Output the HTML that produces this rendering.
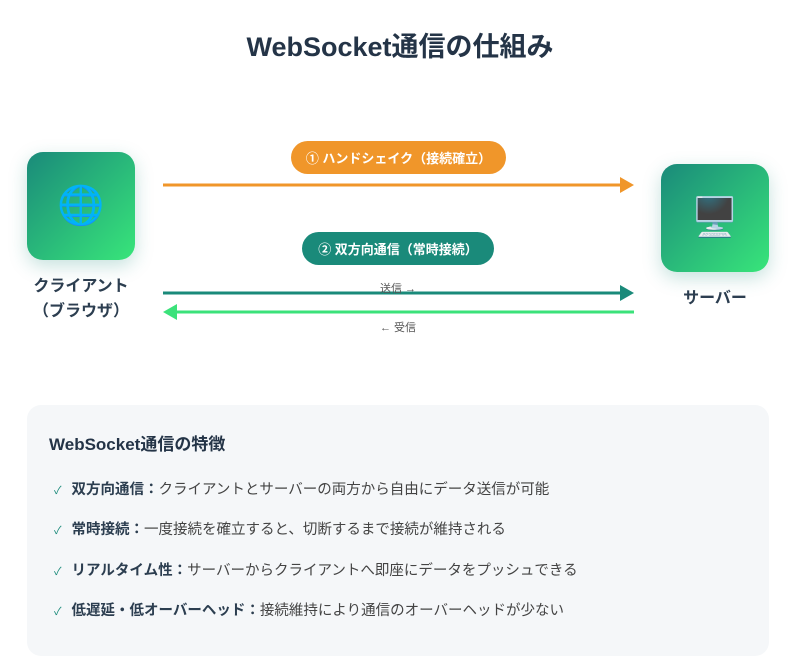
<!DOCTYPE html>
<html><head><meta charset="utf-8"><style>
*{margin:0;padding:0;box-sizing:border-box}
body{width:800px;height:671px;background:#fff;font-family:"Liberation Sans","Noto Sans CJK JP",sans-serif;position:relative;overflow:hidden;color:#2c3e50}
.a{position:absolute}
.title{left:0;width:800px;top:30px;text-align:center;font-size:27px;font-weight:bold;line-height:34px;color:#243447}
.box{width:108px;height:108px;border-radius:16px;background:linear-gradient(135deg,#1a8a7a,#38e57a);box-shadow:0 6px 18px rgba(26,138,122,.25);display:flex;align-items:center;justify-content:center;font-size:38px;font-family:"Noto Color Emoji","DejaVu Sans",sans-serif}
.lbl{font-size:16px;font-weight:bold;text-align:center;line-height:25px;color:#2c3e50}
.pill{height:33px;border-radius:17px;color:#fff;font-size:13px;font-weight:bold;display:flex;align-items:center;justify-content:center}
.sm{font-size:11px;color:#555}
.card{left:27px;top:405px;width:742px;height:251px;background:#f5f7f9;border-radius:14px}
.h{left:49px;top:430px;font-size:17px;font-weight:bold;color:#243447}
.it{left:54px;font-size:14.5px;color:#444;line-height:20px}
.it b{color:#2c3e50}
.it span.c{color:#1a8a7a;font-size:11px;margin-right:10px}
</style></head><body>
<div class="a title">WebSocket通信の仕組み</div>
<div class="a box" style="left:27px;top:152px">🌐</div>
<div class="a lbl" style="left:0;width:162px;top:274px">クライアント<br>（ブラウザ）</div>
<div class="a box" style="left:661px;top:164px">🖥️</div>
<div class="a lbl" style="left:661px;width:108px;top:286px">サーバー</div>
<div class="a pill" style="left:291px;top:141px;width:215px;background:#f0962a">① ハンドシェイク（接続確立）</div>
<div class="a pill" style="left:302px;top:232px;width:192px;background:#1a8a7a">② 双方向通信（常時接続）</div>
<svg class="a" style="left:0;top:0" width="800" height="671">
<line x1="163" y1="185" x2="622" y2="185" stroke="#f0962a" stroke-width="3"/>
<polygon points="620,177 634,185 620,193" fill="#f0962a"/>
<line x1="163" y1="293" x2="622" y2="293" stroke="#1a8a7a" stroke-width="3"/>
<polygon points="620,285 634,293 620,301" fill="#1a8a7a"/>
<line x1="175" y1="312" x2="634" y2="312" stroke="#3be27a" stroke-width="3"/>
<polygon points="177,304 163,312 177,320" fill="#3be27a"/>
</svg>
<div class="a sm" style="left:380px;top:280px">送信 →</div>
<div class="a sm" style="left:380px;top:319px">← 受信</div>
<div class="a card"></div>
<div class="a h">WebSocket通信の特徴</div>
<div class="a it" style="top:480px"><span class="c">✓</span><b>双方向通信：</b>クライアントとサーバーの両方から自由にデータ送信が可能</div>
<div class="a it" style="top:520px"><span class="c">✓</span><b>常時接続：</b>一度接続を確立すると、切断するまで接続が維持される</div>
<div class="a it" style="top:561px"><span class="c">✓</span><b>リアルタイム性：</b>サーバーからクライアントへ即座にデータをプッシュできる</div>
<div class="a it" style="top:601px"><span class="c">✓</span><b>低遅延・低オーバーヘッド：</b>接続維持により通信のオーバーヘッドが少ない</div>
</body></html>
